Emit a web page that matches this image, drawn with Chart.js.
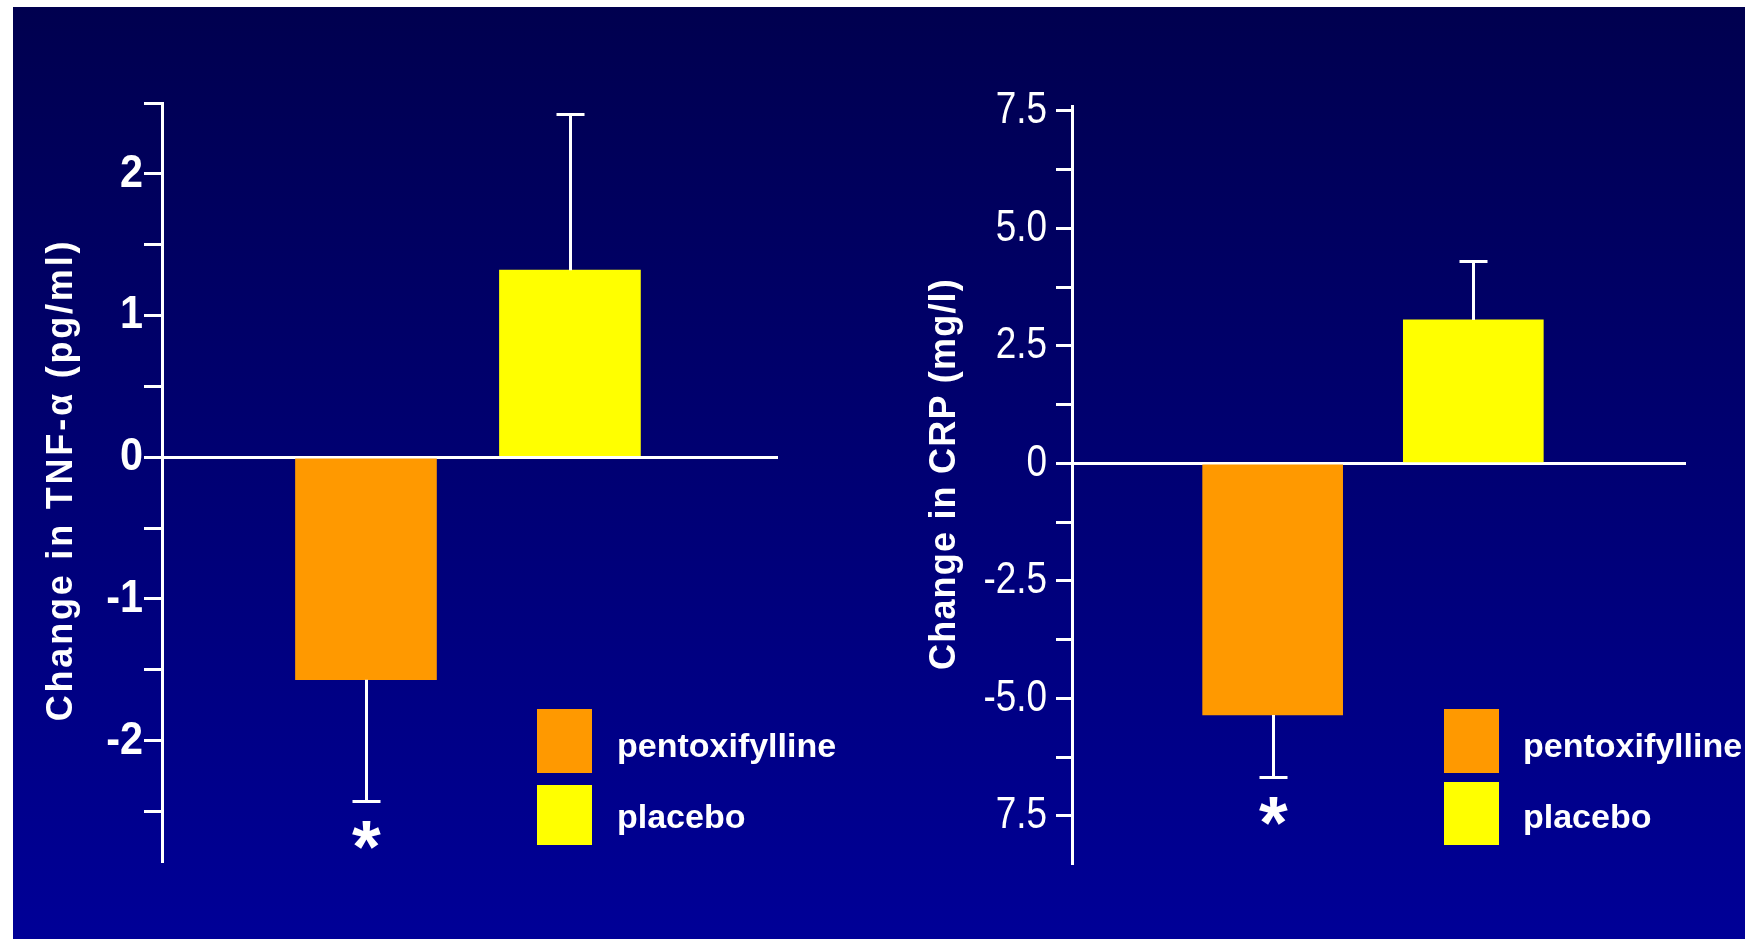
<!DOCTYPE html>
<html>
<head>
<meta charset="utf-8">
<script src="https://cdn.jsdelivr.net/npm/chart.js@4.4.1/dist/chart.umd.min.js"></script>
<style>
  html, body { margin: 0; padding: 0; width: 1745px; height: 939px; overflow: hidden; background: #ffffff; }
  #panel { position: absolute; left: 13px; top: 7px; width: 1732px; height: 932px;
           background: linear-gradient(to bottom, #00004f 0%, #000097 100%); }
  .box { position: absolute; top: 7px; height: 932px; }
  #leftBox { left: 13px; width: 857px; }
  #rightBox { left: 870px; width: 875px; }
</style>
</head>
<body>
<div id="panel"></div>
<div class="box" id="leftBox"><canvas id="tnfChart"></canvas></div>
<div class="box" id="rightBox"><canvas id="crpChart"></canvas></div>
<script>
// Treatment groups and their bar colours
const categories = ['pentoxifylline', 'placebo'];
const barColors = ['#ff9900', '#ffff00'];
const significant = [true, false];

// Change in TNF-alpha (pg/ml): group means and one-sided error bars
const tnfMeans = [-1.57, 1.32];
const tnfErrors = [0.86, 1.10];
const tnfTickValues = [2.5, 2, 1.5, 1, 0.5, 0, -0.5, -1, -1.5, -2, -2.5];
const tnfTickLabels = ['', '2', '', '1', '', '0', '', '-1', '', '-2', ''];

// Change in CRP (mg/l): group means and one-sided error bars
const crpMeans = [-5.35, 3.05];
const crpErrors = [1.33, 1.25];
const crpTickValues = [7.5, 6.25, 5, 3.75, 2.5, 1.25, 0, -1.25, -2.5, -3.75, -5, -6.25, -7.5];
const crpTickLabels = ['7.5', '', '5.0', '', '2.5', '', '0', '', '-2.5', '', '-5.0', '', '7.5'];

const SANS = '"Liberation Sans", Arial, sans-serif';

// Error bars, significance star, legend and rotated axis caption
const figureExtras = {
  id: 'figureExtras',
  afterDraw(chart, args, opts) {
    const ctx = chart.ctx;
    const meta = chart.getDatasetMeta(0);
    const ds = chart.data.datasets[0];
    const yScale = chart.scales.y;
    const area = chart.chartArea;
    ctx.save();

    // error bars pointing away from zero
    ctx.strokeStyle = '#ffffff';
    ctx.lineWidth = 3;
    categories.forEach((name, i) => {
      const el = meta.data[i];
      const v = ds.data[i].y;
      const e = ds.errors[i];
      const x = Math.round(el.x) + 0.5;
      const yEnd = Math.round(yScale.getPixelForValue(v + Math.sign(v) * e)) + 0.5;
      ctx.beginPath();
      ctx.moveTo(x, el.y);
      ctx.lineTo(x, yEnd);
      ctx.moveTo(x - opts.cap / 2, yEnd);
      ctx.lineTo(x + opts.cap / 2, yEnd);
      ctx.stroke();

      if (significant[i]) {
        // size the star by its inked height
        ctx.font = 'bold 100px ' + SANS;
        let m = ctx.measureText('*');
        const size = 100 * opts.starSize / (m.actualBoundingBoxAscent + m.actualBoundingBoxDescent);
        ctx.font = 'bold ' + size.toFixed(1) + 'px ' + SANS;
        m = ctx.measureText('*');
        const cy = yEnd + opts.starGap;
        ctx.fillStyle = '#ffffff';
        ctx.textAlign = 'left';
        ctx.textBaseline = 'alphabetic';
        const w = m.actualBoundingBoxLeft + m.actualBoundingBoxRight;
        ctx.fillText('*', x - w / 2 + m.actualBoundingBoxLeft,
                     cy + (m.actualBoundingBoxAscent - m.actualBoundingBoxDescent) / 2);
      }
    });

    // legend
    ctx.font = 'bold 34px ' + SANS;
    ctx.textAlign = 'left';
    ctx.textBaseline = 'alphabetic';
    categories.forEach((name, i) => {
      const box = opts.legendBoxes[i];
      ctx.fillStyle = ds.backgroundColor[i];
      ctx.fillRect(area.left + opts.legendBoxX, box[0], 55, box[1]);
      ctx.fillStyle = '#ffffff';
      ctx.fillText(name, area.left + opts.legendTextX, opts.legendBaselines[i]);
    });

    // y-axis caption
    ctx.translate(opts.captionX, opts.captionY);
    ctx.rotate(-Math.PI / 2);
    ctx.font = 'bold 36px ' + SANS;
    ctx.letterSpacing = opts.captionSpacing;
    ctx.fillStyle = '#ffffff';
    ctx.textAlign = 'center';
    ctx.textBaseline = 'middle';
    ctx.fillText(opts.caption, 0, 0);
    ctx.restore();
  }
};

function makeChart(canvasId, means, errors, tickValues, tickLabels, range, look) {
  return new Chart(document.getElementById(canvasId), {
    type: 'bar',
    data: {
      datasets: [{
        label: look.caption,
        data: categories.map((c, i) => ({ x: i + 1, y: means[i] })),
        errors: errors,
        backgroundColor: barColors,
        borderWidth: 0,
        barThickness: look.barWidth
      }]
    },
    options: {
      responsive: true,
      maintainAspectRatio: false,
      animation: false,
      devicePixelRatio: 1,
      layout: { padding: { left: 0, top: look.top, right: look.right, bottom: look.bottom } },
      plugins: {
        legend: { display: false },
        tooltip: { enabled: false },
        figureExtras: {
          cap: look.cap,
          starSize: 28,
          starGap: 33,
          legendBoxX: look.legendBoxX,
          legendTextX: look.legendTextX,
          legendBoxes: look.legendBoxes,
          legendBaselines: [750, 821],
          caption: look.caption,
          captionSpacing: look.captionSpacing,
          captionX: look.captionX,
          captionY: look.captionY
        }
      },
      scales: {
        x: { type: 'linear', display: false, offset: false, min: 0, max: look.xMax },
        y: {
          z: 1,
          min: range[0],
          max: range[1],
          afterFit: s => {
            s.width = look.axisWidth;
            // condensed tick lettering, squeezed toward the tick marks
            if (!s._squeezeDone) {
              const draw = s.drawLabels;
              s.drawLabels = function (chartArea) {
                const c = this.ctx;
                const xr = this.right - look.tickLength - look.tickPad;
                c.save();
                c.translate(xr, 0);
                c.scale(look.squeeze, 1);
                c.translate(-xr, 0);
                draw.call(this, chartArea);
                c.restore();
              };
              s._squeezeDone = true;
            }
          },
          afterBuildTicks: s => { s.ticks = tickValues.map(v => ({ value: v })); },
          border: { color: '#ffffff', width: 3 },
          grid: {
            drawOnChartArea: true,
            color: c => (c.tick && c.tick.value === 0 ? '#ffffff' : 'rgba(0,0,0,0)'),
            lineWidth: 3,
            tickColor: '#ffffff',
            tickWidth: 3,
            tickLength: look.tickLength
          },
          ticks: {
            autoSkip: false,
            padding: look.tickPad,
            color: '#ffffff',
            font: look.tickFont,
            callback: (value, index) => tickLabels[index]
          }
        }
      }
    },
    plugins: [figureExtras]
  });
}

makeChart('tnfChart', tnfMeans, tnfErrors, tnfTickValues, tnfTickLabels, [-2.85, 2.5], {
  caption: 'Change in TNF-\u03b1 (pg/ml)', captionSpacing: '2.8px',
  top: 96, bottom: 78, right: 92, axisWidth: 149, xMax: 3.02,
  barWidth: 141, cap: 28,
  tickLength: 18, tickPad: 1, squeeze: 0.88,
  tickFont: { family: SANS, size: 47, weight: 'bold' },
  legendBoxX: 375, legendTextX: 455,
  legendBoxes: [[702, 64], [778, 60]],
  captionX: 49, captionY: 473
});

makeChart('crpChart', crpMeans, crpErrors, crpTickValues, crpTickLabels, [-8.5, 7.6], {
  caption: 'Change in CRP (mg/l)', captionSpacing: '1.2px',
  top: 99, bottom: 76, right: 59, axisWidth: 202, xMax: 3.06,
  barWidth: 140, cap: 28,
  tickLength: 16, tickPad: 9, squeeze: 0.82,
  tickFont: { family: SANS, size: 45, weight: 'normal' },
  legendBoxX: 372, legendTextX: 451,
  legendBoxes: [[702, 64], [775, 63]],
  captionX: 75, captionY: 467
});
</script>
</body>
</html>
